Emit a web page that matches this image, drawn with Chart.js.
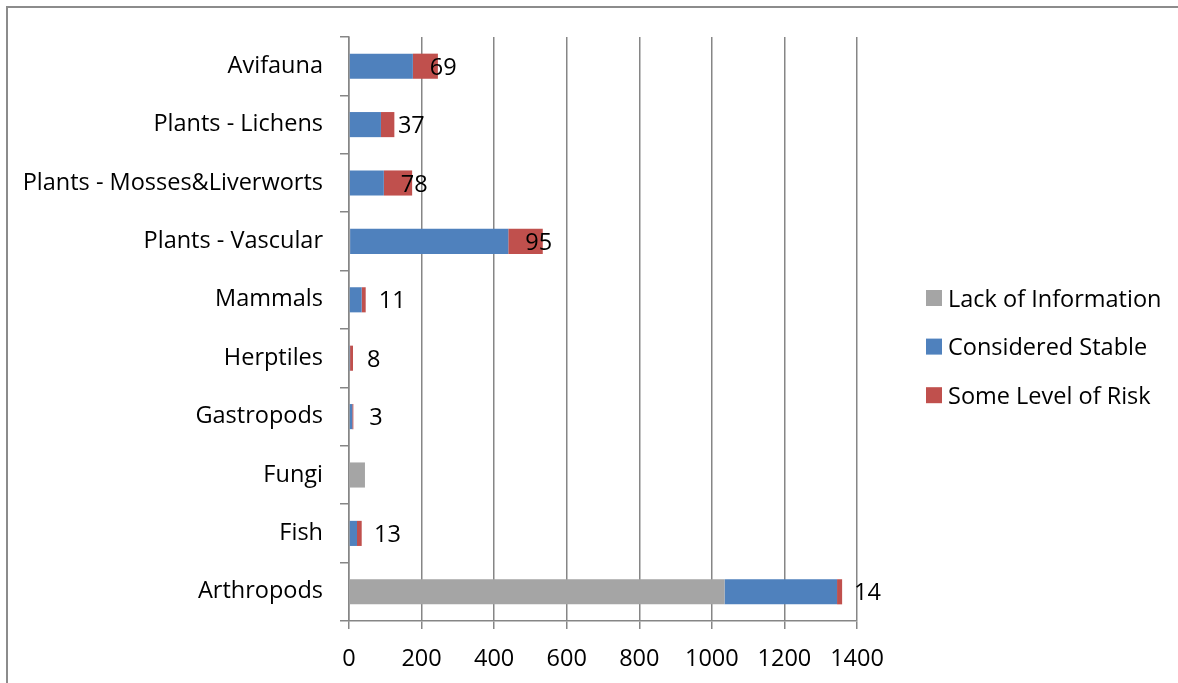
<!DOCTYPE html>
<html>
<head>
<meta charset="utf-8">
<script src="https://cdn.jsdelivr.net/npm/chart.js@4/dist/chart.umd.min.js"></script>
<style>
  html, body { margin: 0; padding: 0; background: #fff; overflow: hidden; }
  #wrap { position: relative; width: 1178px; height: 683px; }
  #frame { position: absolute; left: 6px; top: 6px; width: 1300px; height: 800px;
           border: 2px solid #8c8c8c; box-sizing: border-box; pointer-events: none; }
  canvas { position: absolute; left: 0; top: 0; }
</style>
</head>
<body>
<div id="wrap">
  <canvas id="c" width="1178" height="683"></canvas>
  <div id="frame"></div>
</div>
<script>
// Species groups, listed top to bottom
const categories = ['Avifauna', 'Plants - Lichens', 'Plants - Mosses&Liverworts', 'Plants - Vascular',
  'Mammals', 'Herptiles', 'Gastropods', 'Fungi', 'Fish', 'Arthropods'];
const lackOfInformation = [0, 0, 0, 3, 0, 0, 0, 44, 0, 1035];
const consideredStable  = [176, 88, 96, 436, 35, 3, 9, 0, 22, 310];
const someLevelOfRisk   = [69, 37, 78, 95, 11, 8, 3, 0, 13, 14];
const xTicks = [0, 200, 400, 600, 800, 1000, 1200, 1400];

const FONT = '"Open Sans", sans-serif';
const FONT_SIZE = 23.5;
const AXIS_GREY = '#868686';

// Labels the risk counts just past the start of the red segment
const riskLabels = {
  id: 'riskLabels',
  afterDatasetsDraw(chart) {
    const ctx = chart.ctx;
    const meta = chart.getDatasetMeta(2);
    const data = chart.data.datasets[2].data;
    ctx.save();
    ctx.font = FONT_SIZE + 'px ' + FONT;
    ctx.fillStyle = '#000';
    ctx.textAlign = 'left';
    ctx.textBaseline = 'middle';
    meta.data.forEach((bar, i) => {
      if (!data[i]) return;
      ctx.fillText(String(data[i]), bar.base + 17, bar.y + 2);
    });
    ctx.restore();
  }
};

// Legend column on the right
const sideLegend = {
  id: 'sideLegend',
  afterDraw(chart) {
    const ctx = chart.ctx;
    const x0 = 926, y0 = 298, step = 48.6, box = 16;
    ctx.save();
    ctx.font = FONT_SIZE + 'px ' + FONT;
    ctx.textAlign = 'left';
    ctx.textBaseline = 'middle';
    chart.data.datasets.forEach((ds, i) => {
      const y = y0 + i * step;
      ctx.fillStyle = ds.backgroundColor;
      ctx.fillRect(x0, y - box / 2, box, box);
      ctx.fillStyle = '#000';
      ctx.fillText(ds.label, x0 + 22, y + 2);
    });
    ctx.restore();
  }
};

new Chart(document.getElementById('c'), {
  type: 'bar',
  data: {
    labels: categories,
    datasets: [
      { label: 'Lack of Information', data: lackOfInformation, backgroundColor: '#A5A5A5' },
      { label: 'Considered Stable', data: consideredStable, backgroundColor: '#4F81BD' },
      { label: 'Some Level of Risk', data: someLevelOfRisk, backgroundColor: '#C0504D' }
    ]
  },
  options: {
    indexAxis: 'y',
    responsive: false,
    animation: false,
    devicePixelRatio: 1,
    layout: { padding: { left: 0, right: 321, top: 37, bottom: 0 } },
    datasets: { bar: { barPercentage: 0.43, categoryPercentage: 1 } },
    plugins: { legend: { display: false }, tooltip: { enabled: false } },
    scales: {
      x: {
        stacked: true,
        min: 0, max: 1400,
        afterBuildTicks(scale) { scale.ticks = xTicks.map(v => ({ value: v })); },
        afterFit(scale) { scale.height = 62; },
        grid: { color: AXIS_GREY, lineWidth: 1.5, tickLength: 8, drawTicks: true },
        border: { color: AXIS_GREY, width: 1.5 },
        ticks: { color: '#000', padding: 16, maxRotation: 0, autoSkip: false,
                 callback: v => String(v),
                 font: { family: FONT, size: FONT_SIZE } }
      },
      y: {
        stacked: true,
        afterFit(scale) { scale.width = 349; },
        grid: { drawOnChartArea: false, drawTicks: true, tickLength: 9, color: AXIS_GREY, lineWidth: 1.5, offset: true },
        border: { color: AXIS_GREY, width: 1.5 },
        ticks: { color: '#000', padding: 17, font: { family: FONT, size: FONT_SIZE } }
      }
    }
  },
  plugins: [riskLabels, sideLegend]
});
</script>
</body>
</html>
